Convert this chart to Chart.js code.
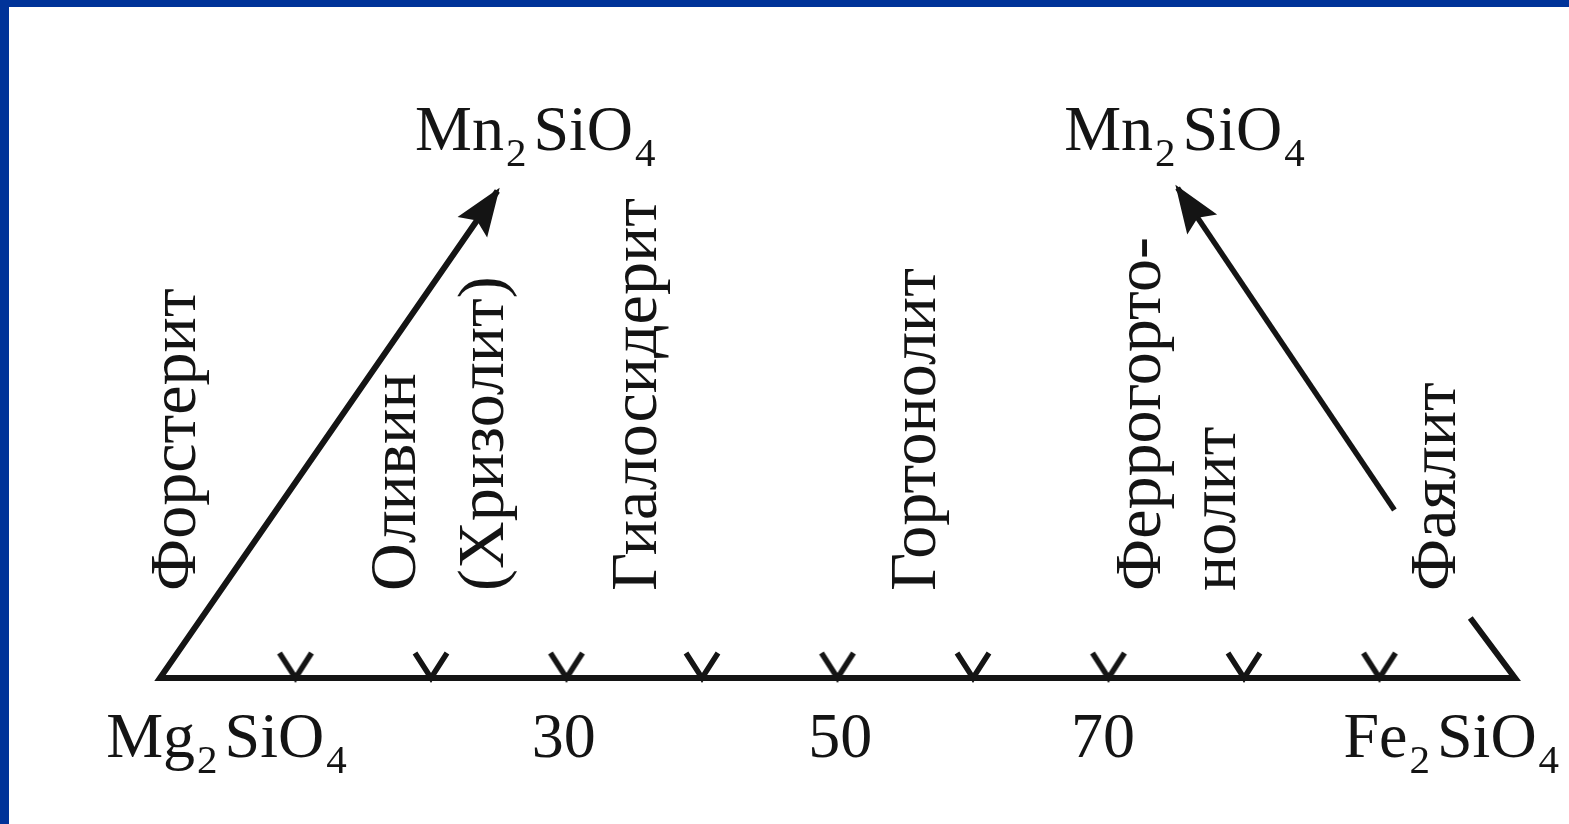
<!DOCTYPE html>
<html lang="ru">
<head>
    <meta charset="UTF-8">
    <title>Ряд оливина</title>
    <script src="https://cdn.jsdelivr.net/npm/chart.js"></script>
    <style>
        html, body { margin: 0; padding: 0; background: #fff; }
        .frame { position: relative; width: 1569px; height: 824px; overflow: hidden; background: #fff; }
        .frame canvas { position: absolute; left: 0; top: 0; }
        .bar-top { position: absolute; left: 0; top: 0; width: 1569px; height: 7px; background: #003399; }
        .bar-left { position: absolute; left: 0; top: 0; width: 9px; height: 824px; background: #003399; }
    </style>
</head>
<body>
<div class="frame">
    <canvas id="chart" width="1569" height="824"></canvas>
    <div class="bar-top"></div>
    <div class="bar-left"></div>
</div>

<script>
    // composition axis: % Fe2SiO4 (0 = Mg2SiO4, 100 = Fe2SiO4)
    const tickValues = [10, 20, 30, 40, 50, 60, 70, 80, 90];
    const axisLabels = ['Mg_2SiO_4', '30', '50', '70', 'Fe_2SiO_4'];
    const axisLabelValues = [4.9, 29.8, 50.2, 69.6, 95.3];

    // mineral names, written upright along the axis
    const mineralNames = ['Форстерит', 'Оливин', '(Хризолит)', 'Гиалосидерит', 'Гортонолит', 'Феррогорто-', 'нолит', 'Фаялит'];
    const mineralValues = [2.6, 18.8, 25.3, 36.6, 57.2, 73.8, 79.3, 95.6];

    // outline: left arrow head -> Mg2SiO4 corner -> Fe2SiO4 corner -> short stroke
    const outlineX = [24.9, 0, 100, 96.7];
    const outlineY = [97.4, 0, 0, 12];
    // right arrow: tail, head
    const arrowRightX = [91.1, 75.1];
    const arrowRightY = [33.6, 98];

    const topLabels = ['Mn_2SiO_4', 'Mn_2SiO_4'];
    const topLabelValues = [27.7, 75.6];

    const INK = '#141414';
    const SERIF = '"Liberation Serif", "Times New Roman", serif';

    function toPoints(xs, ys) {
        return xs.map((x, i) => ({ x: x, y: ys[i] }));
    }

    // V-shaped tick mark, apex at the image centre
    function makeTickMark() {
        const c = document.createElement('canvas');
        c.width = 40;
        c.height = 56;
        const g = c.getContext('2d');
        g.strokeStyle = INK;
        g.lineWidth = 5.5;
        g.lineJoin = 'miter';
        g.beginPath();
        g.moveTo(4, 3);
        g.lineTo(20, 28);
        g.lineTo(36, 3);
        g.stroke();
        return c;
    }

    function parseFormula(text) {
        const parts = [];
        for (let i = 0; i < text.length; i++) {
            if (text[i] === '_') {
                parts.push({ t: text[i + 1], sub: true });
                i++;
            } else if (parts.length && !parts[parts.length - 1].sub) {
                parts[parts.length - 1].t += text[i];
            } else {
                parts.push({ t: text[i], sub: false });
            }
        }
        return parts;
    }

    function drawFormula(ctx, text, cx, baseline) {
        const mainFont = '64px ' + SERIF;
        const subFont = '41px ' + SERIF;
        const parts = parseFormula(text);
        let total = 0;
        parts.forEach((p, i) => {
            ctx.font = p.sub ? subFont : mainFont;
            p.w = ctx.measureText(p.t).width;
            p.gap = i < parts.length - 1 ? (p.sub ? 7 : 2) : 0;
            total += p.w + p.gap;
        });
        let x = cx - total / 2;
        ctx.textAlign = 'left';
        ctx.textBaseline = 'alphabetic';
        parts.forEach(p => {
            ctx.font = p.sub ? subFont : mainFont;
            ctx.fillText(p.t, x, p.sub ? baseline + 16 : baseline);
            x += p.w + p.gap;
        });
    }

    function drawArrowHead(ctx, a, b) {
        const ang = Math.atan2(b.y - a.y, b.x - a.x);
        const len = 48, half = 18;
        const tx = b.x + 4 * Math.cos(ang), ty = b.y + 4 * Math.sin(ang);
        const bx = tx - len * Math.cos(ang), by = ty - len * Math.sin(ang);
        ctx.beginPath();
        ctx.moveTo(tx, ty);
        ctx.lineTo(bx + half * Math.sin(ang), by - half * Math.cos(ang));
        ctx.lineTo(bx + 8 * Math.cos(ang), by + 8 * Math.sin(ang));
        ctx.lineTo(bx - half * Math.sin(ang), by + half * Math.cos(ang));
        ctx.closePath();
        ctx.fill();
    }

    const labelsPlugin = {
        id: 'labels',
        afterDatasetsDraw(chart) {
            const ctx = chart.ctx;
            const xs = chart.scales.x;
            const ys = chart.scales.y;
            ctx.save();
            ctx.fillStyle = INK;

            // arrow heads: left one is the first point of the outline, right one the last of its line
            const outline = chart.getDatasetMeta(0).data;
            drawArrowHead(ctx, outline[1], outline[0]);
            const right = chart.getDatasetMeta(1).data;
            drawArrowHead(ctx, right[0], right[1]);

            // formula labels on top and along the axis
            topLabels.forEach((t, i) => drawFormula(ctx, t, xs.getPixelForValue(topLabelValues[i]), ys.getPixelForValue(105.6)));
            axisLabels.forEach((t, i) => drawFormula(ctx, t, xs.getPixelForValue(axisLabelValues[i]), ys.getPixelForValue(-15.8)));

            // mineral names, rotated
            ctx.font = '66px ' + SERIF;
            ctx.textAlign = 'left';
            ctx.textBaseline = 'alphabetic';
            mineralNames.forEach((name, i) => {
                ctx.save();
                ctx.translate(xs.getPixelForValue(mineralValues[i]), ys.getPixelForValue(17.4));
                ctx.rotate(-Math.PI / 2);
                ctx.fillText(name, 0, 0);
                ctx.restore();
            });
            ctx.restore();
        }
    };

    new Chart(document.getElementById('chart'), {
        type: 'scatter',
        data: {
            datasets: [
                {
                    data: toPoints(outlineX, outlineY),
                    showLine: true,
                    borderColor: INK,
                    borderWidth: 6,
                    borderJoinStyle: 'miter',
                    pointRadius: 0,
                    tension: 0,
                    clip: false
                },
                {
                    data: toPoints(arrowRightX, arrowRightY),
                    showLine: true,
                    borderColor: INK,
                    borderWidth: 5.5,
                    pointRadius: 0,
                    tension: 0,
                    clip: false
                },
                {
                    data: tickValues.map(v => ({ x: v, y: 0 })),
                    showLine: false,
                    pointStyle: makeTickMark(),
                    pointRadius: 3,
                    clip: false
                }
            ]
        },
        options: {
            responsive: false,
            animation: false,
            devicePixelRatio: 1,
            layout: { padding: { left: 160, right: 54, top: 178, bottom: 146 } },
            plugins: {
                legend: { display: false },
                tooltip: { enabled: false }
            },
            scales: {
                x: { type: 'linear', min: 0, max: 100, display: false },
                y: { type: 'linear', min: 0, max: 100, display: false }
            }
        },
        plugins: [labelsPlugin]
    });
</script>
</body>
</html>
